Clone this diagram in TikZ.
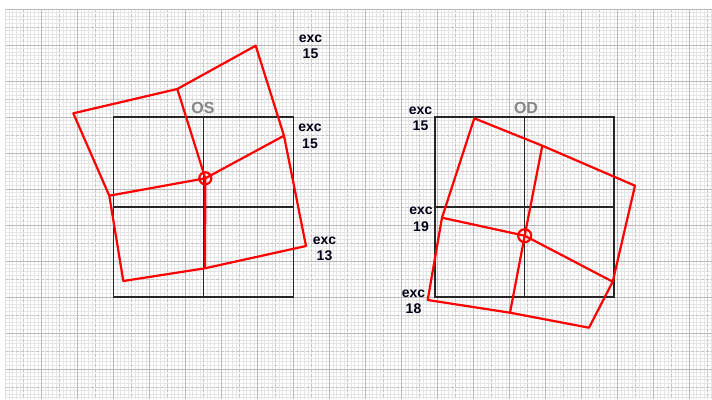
\documentclass[tikz,border=0pt]{standalone}
\usepackage{fontspec}
\setmainfont{Liberation Sans}
\usetikzlibrary{calc}

\begin{document}
\begin{tikzpicture}[x=1pt, y=-1pt,
  fine/.style={draw=gray!20, line width=1pt},
  half/.style={draw=gray!45, line width=0.9pt, dash pattern=on 3pt off 2pt},
  major/.style={draw=gray!55, line width=0.9pt},
  field/.style={draw=black!85, line width=1.1pt},
  shell/.style={draw=red, line width=2.2pt, line join=round},
  exc/.style={font=\fontsize{14}{16.5}\selectfont\bfseries, text=black!85!blue!60!black,
              align=center, inner sep=0pt},
  eye/.style={font=\fontsize{16}{18}\selectfont\bfseries, text=gray!95, anchor=base, inner sep=0pt}]
\useasboundingbox (0,0) rectangle (712,399);
\fill[white] (0,0) rectangle (712,399);

% grid paper
\begin{scope}
\clip (5.7,9) rectangle (712,399);
\foreach \i in {0,...,196} \draw[fine] ({5.7+3.6*\i},9) -- ({5.7+3.6*\i},399);
\foreach \i in {0,...,109} \draw[fine] (5.7,{9+3.6*\i}) -- (712,{9+3.6*\i});
\foreach \k in {0,...,19} {
  \draw[half] ({23.7+36*\k},9) -- ({23.7+36*\k},399);
  \draw[half] (5.7,{27+36*\k}) -- (712,{27+36*\k});
  \draw[major] ({5.7+36*\k},9) -- ({5.7+36*\k},399);
  \draw[major] (5.7,{9+36*\k}) -- (712,{9+36*\k});
}
\end{scope}

% OS field
\draw[field] (113.7,117) rectangle (293.7,297);
\draw[field] (203.7,117) -- (203.7,297);
\draw[field] (113.7,207) -- (293.7,207);
\coordinate (os-tr) at (255.7,45.7);
\coordinate (os-t)  at (177.3,89);
\coordinate (os-tl) at (73.3,113.3);
\coordinate (os-l)  at (109.3,195.7);
\coordinate (os-bl) at (123.3,281);
\coordinate (os-b)  at (205,268.3);
\coordinate (os-br) at (306,246);
\coordinate (os-r)  at (284,135.7);
\coordinate (os-c)  at (205.3,178.3);
\draw[shell] (os-tr) -- (os-t) -- (os-tl) -- (os-l) -- (os-bl) -- (os-b) -- (os-br) -- (os-r) -- cycle;
\foreach \p in {os-t,os-l,os-b,os-r} \draw[shell] (os-c) -- (\p);
\draw[shell] (os-c) circle[radius=6];

% OD field
\draw[field] (435,117) rectangle (614,297);
\draw[field] (524.5,117) -- (524.5,297);
\draw[field] (435,207) -- (614,207);
\coordinate (od-tl) at (474.3,118.3);
\coordinate (od-t)  at (542.3,145.7);
\coordinate (od-tr) at (635,185.7);
\coordinate (od-r)  at (612.7,281.7);
\coordinate (od-br) at (589,327.7);
\coordinate (od-b)  at (510,312.7);
\coordinate (od-bl) at (427.7,300);
\coordinate (od-l)  at (442,217.7);
\coordinate (od-c)  at (524.7,235.7);
\draw[shell] (od-tl) -- (od-t) -- (od-tr) -- (od-r) -- (od-br) -- (od-b) -- (od-bl) -- (od-l) -- cycle;
\foreach \p in {od-t,od-r,od-b,od-l} \draw[shell] (od-c) -- (\p);
\draw[shell] (od-c) circle[radius=6.5];

% labels
\node[eye] (os-name) at (203,113.3) {OS};
\node[eye] (od-name) at (526,113.3) {OD};
\node[exc] (os-exc1) at (310.5,46.7) {exc\\15};
\node[exc] (os-exc2) at (310,136.5) {exc\\15};
\node[exc] (os-exc3) at (324.5,248.8) {exc\\13};
\node[exc] (od-exc1) at (420.5,118.7) {exc\\15};
\node[exc] (od-exc2) at (421,219.2) {exc\\19};
\node[exc] (od-exc3) at (413.5,301.7) {exc\\18};
\end{tikzpicture}
\end{document}
